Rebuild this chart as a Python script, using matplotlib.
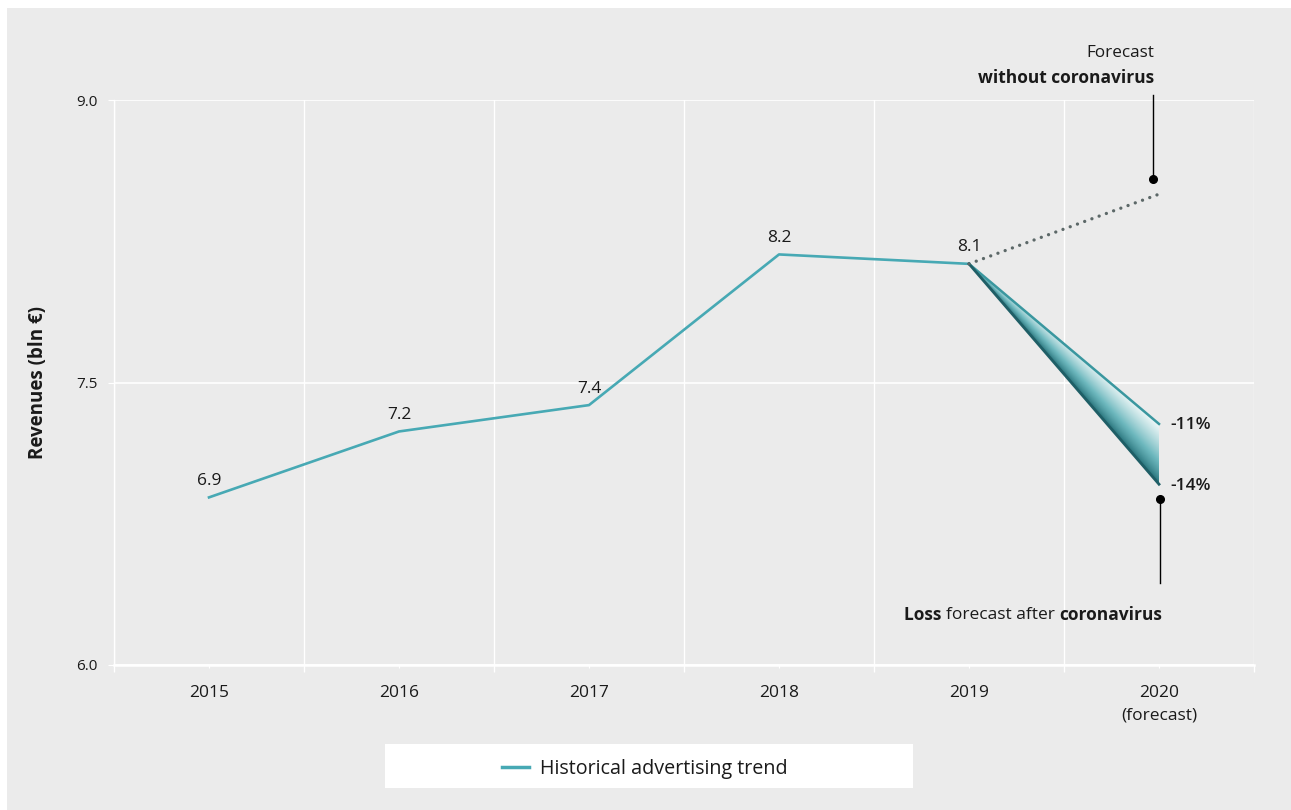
import numpy as np
import matplotlib
matplotlib.use('Agg')
import matplotlib.pyplot as plt
from matplotlib.patches import Rectangle, Polygon
from matplotlib.colors import LinearSegmentedColormap
from matplotlib.lines import Line2D

plt.rcParams['font.family'] = ['Open Sans', 'DejaVu Sans']

# revenue in bln euro
years = ['2015', '2016', '2017', '2018', '2019', '2020\n(forecast)']
revenue = [6.89, 7.24, 7.38, 8.18, 8.13]
forecast_no_covid = 8.50
forecast_loss = [7.28, 6.96]
loss_labels = ['-11%', '-14%']

teal = '#47a9b4'
bg = '#ebebeb'
ink = '#1a1a1a'
W, H = 1291, 810

fig = plt.figure(figsize=(W / 100, H / 100), dpi=100)
fig.patch.set_facecolor('white')
fig.patches.append(Rectangle((7 / W, 0), 1, 1 - 8 / H, transform=fig.transFigure,
                             facecolor=bg, edgecolor='none', zorder=-10))
fig.patches.append(Rectangle((385 / W, 22 / H), 528 / W, 44 / H, transform=fig.transFigure,
                             facecolor='white', edgecolor='none', zorder=-5))

ax = fig.add_axes([114 / W, 145 / H, 1140 / W, 565 / H])
ax.set_facecolor('none')
ax.set_axisbelow(True)

x = np.arange(len(years))
ax.plot(x[:5], revenue, color=teal, lw=1.9, zorder=3)

# gradient wedge between the two loss scenarios
y0 = revenue[-1]
hi, lo = forecast_loss
wedge = Polygon([(4, y0), (5, hi), (5, lo)], closed=True, transform=ax.transData,
                facecolor='none', edgecolor='none')
ax.add_patch(wedge)
gx = np.linspace(4, 5, 400)
gy = np.linspace(lo, y0, 400)
X, Y = np.meshgrid(gx, gy)
top = y0 + (hi - y0) * (X - 4)
bot = y0 + (lo - y0) * (X - 4)
t = np.clip((Y - bot) / np.maximum(top - bot, 1e-6), 0, 1)
shade = t ** 0.7 * (0.75 + 0.25 * (X - 4))
cmap = LinearSegmentedColormap.from_list('wedge', ['#1f6a72', '#6db8be', '#f2f9f9'])
ax.imshow(shade, extent=(4, 5, lo, y0), origin='lower', cmap=cmap, aspect='auto',
          clip_path=wedge, zorder=2, interpolation='bilinear')
ax.plot([4, 5], [y0, hi], color='#3a979f', lw=1.8, zorder=3)
ax.plot([4, 5], [y0, lo], color='#1f5e66', lw=2.0, zorder=3)

# forecast without coronavirus
ax.plot([4, 5], [y0, forecast_no_covid], color='#5c6868', lw=2.4,
        linestyle=(0, (0.01, 2.3)), dash_capstyle='round', zorder=3)

for xi, v in zip(x, revenue):
    ax.annotate(f'{v:.1f}', (xi, v), xytext=(0, 9), textcoords='offset points',
                ha='center', va='baseline', fontsize=12.5, color=ink)

for v, lab in zip(forecast_loss, loss_labels):
    ax.annotate(lab, (5, v), xytext=(8, -1), textcoords='offset points',
                ha='left', va='center', fontsize=12.5, fontweight='semibold', color=ink)

# callout: forecast without coronavirus
ax.plot([4.97, 4.97], [8.58, 9.025], color='black', lw=1, clip_on=False, zorder=4)
ax.plot([4.97], [8.58], 'o', color='black', ms=5.5, clip_on=False, zorder=4)
ax.text(4.975, 9.25, 'Forecast', ha='right', va='center', fontsize=12.3, color=ink, clip_on=False)
ax.text(4.975, 9.117, 'without coronavirus', ha='right', va='center', fontsize=12.5,
        fontweight='bold', color=ink, clip_on=False)

# callout: loss forecast
ax.plot([5.005, 5.005], [6.88, 6.435], color='black', lw=1, zorder=4)
ax.plot([5.005], [6.88], 'o', color='black', ms=5.5, zorder=4)
t1 = ax.text(5.016, 6.265, 'coronavirus', ha='right', va='center', fontsize=12.5,
             fontweight='bold', color=ink)
t2 = ax.annotate('forecast after ', xy=(0, 0.5), xycoords=t1, ha='right', va='center',
                 fontsize=12.5, color=ink)
ax.annotate('Loss ', xy=(0, 0.5), xycoords=t2, ha='right', va='center',
            fontsize=12.5, fontweight='bold', color=ink)

ax.set_xlim(-0.5, 5.5)
ax.set_ylim(6, 9)
ax.set_xticks(x)
ax.set_xticklabels(years)
for lbl in ax.get_xticklabels():
    lbl.set_linespacing(1.5)
ax.set_xticks(np.arange(-0.5, 6, 1), minor=True)
ax.set_yticks([6.0, 7.5, 9.0])
ax.set_yticklabels([f'{v:.1f}' for v in [6.0, 7.5, 9.0]])
ax.grid(which='minor', axis='x', color='white', lw=1)
ax.grid(which='major', axis='y', color='white', lw=1.2)
ax.grid(which='major', axis='x', visible=False)
ax.tick_params(axis='x', which='major', length=2.5, color='white', pad=12,
               labelsize=12.5, labelcolor=ink)
ax.tick_params(axis='x', which='minor', length=5, color='white', width=1)
ax.tick_params(axis='y', length=4, color='white', pad=8, labelsize=11, labelcolor=ink)
for s in ['top', 'right']:
    ax.spines[s].set_visible(False)
ax.spines['bottom'].set_color('white')
ax.spines['bottom'].set_linewidth(1.8)
ax.spines['left'].set_color('white')
ax.spines['left'].set_linewidth(1)

fig.text(38 / W, 1 - 383 / H, 'Revenues (bln €)', rotation=90, ha='center', va='center',
         fontsize=13.5, fontweight='bold', color=ink)

handle = Line2D([], [], color=teal, lw=2.5)
fig.legend(handles=[handle], labels=['Historical advertising trend'], loc='center',
           bbox_to_anchor=(645 / W, 41 / H), frameon=False, fontsize=14.2,
           handlelength=1.35, handletextpad=0.55, labelcolor=ink)

fig.savefig('out.png', dpi=100, facecolor=fig.get_facecolor())
